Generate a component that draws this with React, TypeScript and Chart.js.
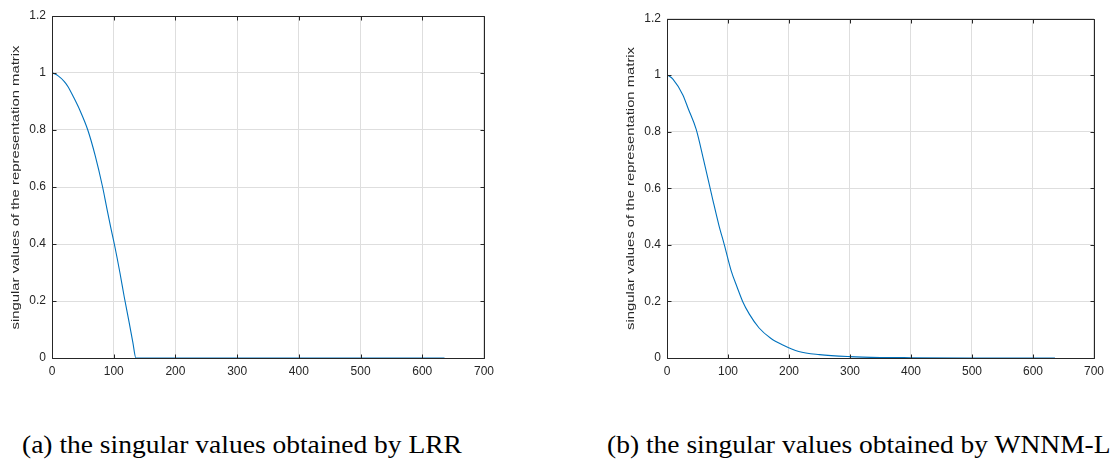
import React, { useEffect, useRef } from "react";
import { Chart, registerables } from "chart.js";

Chart.register(...registerables);

// LRR singular values (index, value)
const lrrX = [1, 10, 20, 26, 35, 45, 58, 70, 82, 88, 95, 101, 110, 117, 125, 131, 136, 150, 200, 300, 400, 500, 600, 636];
const lrrY = [1.0, 0.99, 0.97, 0.952, 0.915, 0.87, 0.8, 0.71, 0.6, 0.535, 0.46, 0.4, 0.3, 0.215, 0.125, 0.055, 0.0, 0, 0, 0, 0, 0, 0, 0];

// WNNM-LRR singular values (index, value)
const wnnmX = [1, 10, 26, 35, 48, 60, 75, 85, 94, 105, 115, 124, 135, 151, 170, 189, 216, 250, 300, 350, 400, 500, 600, 636];
const wnnmY = [1.0, 0.985, 0.93, 0.88, 0.807, 0.7, 0.56, 0.47, 0.4, 0.31, 0.25, 0.2, 0.155, 0.106, 0.07, 0.047, 0.023, 0.012, 0.005, 0.002, 0.001, 0, 0, 0];

const xTicks = [0, 100, 200, 300, 400, 500, 600, 700];
const yTicks = [0, 0.2, 0.4, 0.6, 0.8, 1, 1.2];

const yLabel = "singular values of the representation matrix";
const captionA = "(a) the singular values obtained by LRR";
const captionB = "(b) the singular values obtained by WNNM-LRR";

const AXIS = "#262626";
const LINE = "#0072BD";

const boxPlugin = {
  id: "matlabBox",
  afterDraw(chart: any) {
    const { ctx, chartArea, scales } = chart;
    const { left, right, top, bottom } = chartArea;
    ctx.save();
    ctx.strokeStyle = AXIS;
    ctx.lineWidth = 1;
    const L = Math.round(left) + 0.5;
    const R = Math.round(right) + 0.5;
    const T = Math.round(top) + 0.5;
    const B = Math.round(bottom) + 0.5;
    ctx.beginPath();
    ctx.rect(L, T, R - L, B - T);
    ctx.stroke();
    const tl = 4;
    ctx.beginPath();
    xTicks.forEach((v) => {
      const px = Math.round(scales.x.getPixelForValue(v)) + 0.5;
      ctx.moveTo(px, B);
      ctx.lineTo(px, B - tl);
      ctx.moveTo(px, T);
      ctx.lineTo(px, T + tl);
    });
    yTicks.forEach((v) => {
      const py = Math.round(scales.y.getPixelForValue(v)) + 0.5;
      ctx.moveTo(L, py);
      ctx.lineTo(L + tl, py);
      ctx.moveTo(R, py);
      ctx.lineTo(R - tl, py);
    });
    ctx.stroke();

    const opt = chart.options.plugins.ylabel;
    if (opt) {
      ctx.save();
      ctx.translate(opt.x, opt.y);
      ctx.rotate(-Math.PI / 2);
      ctx.font = '11px "Liberation Sans", Arial, sans-serif';
      const w = ctx.measureText(opt.text).width;
      ctx.scale(opt.length / w, 1);
      ctx.textAlign = "center";
      ctx.textBaseline = "middle";
      ctx.fillStyle = AXIS;
      ctx.fillText(opt.text, 0, 0);
      ctx.restore();
    }
    ctx.restore();
  },
};

type PanelProps = {
  xs: number[];
  ys: number[];
  left: number;
  width: number;
  height: number;
  axisWidth: number;
  padTop: number;
  padRight: number;
  xAxisHeight: number;
  labelX: number;
  labelY: number;
  labelLen: number;
};

function Panel(p: PanelProps) {
  const ref = useRef<HTMLCanvasElement | null>(null);
  useEffect(() => {
    if (!ref.current) return;
    const points = p.xs.map((x, i) => ({ x, y: p.ys[i] }));
    const tickFont = { family: '"Liberation Sans", Arial, sans-serif', size: 12 };
    const chart = new Chart(ref.current, {
      type: "line",
      data: {
        datasets: [
          {
            data: points,
            borderColor: LINE,
            borderWidth: 1.1,
            pointRadius: 0,
            fill: false,
            cubicInterpolationMode: "monotone",
          },
        ],
      },
      options: {
        animation: false,
        responsive: false,
        events: [],
        layout: { padding: { top: p.padTop, right: p.padRight, left: 0, bottom: 0 } },
        plugins: {
          legend: { display: false },
          tooltip: { enabled: false },
          ylabel: { text: yLabel, x: p.labelX, y: p.labelY, length: p.labelLen },
        } as any,
        scales: {
          x: {
            type: "linear",
            min: 0,
            max: 700,
            afterBuildTicks: (s: any) => {
              s.ticks = xTicks.map((v) => ({ value: v }));
            },
            afterFit: (s: any) => {
              s.height = p.xAxisHeight;
            },
            ticks: { color: AXIS, font: tickFont, padding: 6, maxRotation: 0 },
            grid: { color: "#dedede", drawTicks: false, lineWidth: 1 },
            border: { display: false },
          },
          y: {
            type: "linear",
            min: 0,
            max: 1.2,
            afterBuildTicks: (s: any) => {
              s.ticks = yTicks.map((v) => ({ value: v }));
            },
            afterFit: (s: any) => {
              s.width = p.axisWidth;
            },
            ticks: {
              color: AXIS,
              font: tickFont,
              padding: 6,
              callback: (v: any) => String(Math.round(Number(v) * 10) / 10),
            },
            grid: { color: "#dedede", drawTicks: false, lineWidth: 1 },
            border: { display: false },
          },
        },
      },
      plugins: [boxPlugin],
    } as any);
    return () => chart.destroy();
  }, []);
  return (
    <canvas
      ref={ref}
      width={p.width}
      height={p.height}
      style={{ position: "absolute", left: p.left, top: 0, width: p.width, height: p.height }}
    />
  );
}

const captionStyle = (left: number): React.CSSProperties => ({
  position: "absolute",
  left,
  top: 432,
  fontFamily: '"Liberation Serif", "Times New Roman", serif',
  fontSize: 25,
  lineHeight: "25px",
  whiteSpace: "nowrap",
  color: "#000",
  transform: "scaleX(1.1)",
  transformOrigin: "left center",
});

export default function App() {
  return (
    <div
      style={{
        position: "absolute",
        left: 0,
        top: 0,
        width: 1110,
        height: 459,
        overflow: "hidden",
        background: "#fff",
      }}
    >
      <Panel
        xs={lrrX}
        ys={lrrY}
        left={0}
        width={500}
        height={385}
        axisWidth={52}
        padTop={16}
        padRight={14.5}
        xAxisHeight={27}
        labelX={16}
        labelY={187.5}
        labelLen={284}
      />
      <Panel
        xs={wnnmX}
        ys={wnnmY}
        left={600}
        width={510}
        height={385}
        axisWidth={67}
        padTop={18.5}
        padRight={12.3}
        xAxisHeight={27}
        labelX={31}
        labelY={188.5}
        labelLen={283}
      />
      <div style={captionStyle(22)}>{captionA}</div>
      <div style={captionStyle(607)}>{captionB}</div>
    </div>
  );
}
